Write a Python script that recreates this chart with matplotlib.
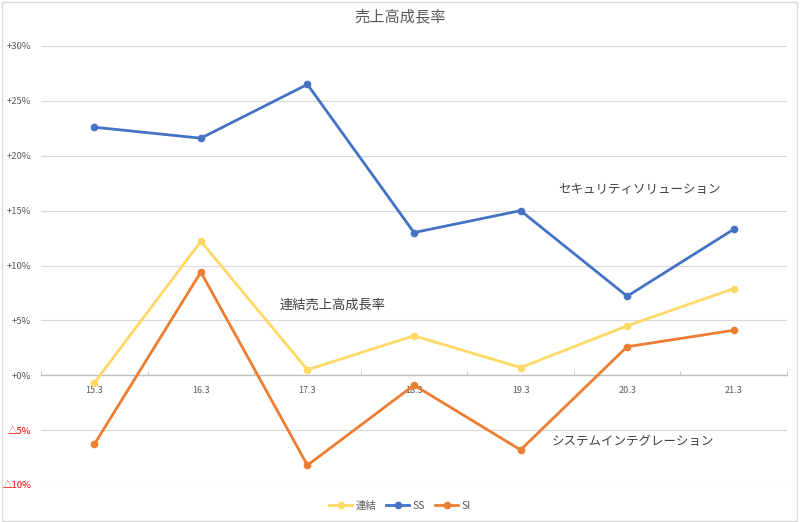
import numpy as np
import matplotlib.pyplot as plt
from matplotlib.patches import Rectangle

plt.rcParams['font.family'] = ['Noto Sans CJK JP', 'DejaVu Sans']

# データ
periods = ['15.3', '16.3', '17.3', '18.3', '19.3', '20.3', '21.3']
renketsu = [-0.7, 12.2, 0.5, 3.6, 0.7, 4.5, 7.9]   # 連結
ss = [22.6, 21.6, 26.5, 13.0, 15.0, 7.2, 13.3]      # セキュリティソリューション
si = [-6.3, 9.4, -8.2, -0.9, -6.8, 2.6, 4.1]        # システムインテグレーション
yticks = [-10, -5, 0, 5, 10, 15, 20, 25, 30]

c_ren = '#FFD966'
c_ss = '#4472C4'
c_si = '#ED7D31'
gray = '#595959'

fig = plt.figure(figsize=(8.0, 5.22), dpi=100)
ax = fig.add_axes([41/800, 1-485/522, (787-41)/800, (485-46)/522])

x = np.arange(len(periods))
lw = 2.0
ms = 4.5
ax.plot(x, renketsu, color=c_ren, lw=lw, marker='o', ms=ms, label='連結', zorder=3)
ax.plot(x, ss, color=c_ss, lw=lw, marker='o', ms=ms, label='SS', zorder=3)
ax.plot(x, si, color=c_si, lw=lw, marker='o', ms=ms, label='SI', zorder=3)

ax.set_xlim(-0.5, len(periods) - 0.5)
ax.set_ylim(-10, 30)

# y軸
ax.set_yticks(yticks)
labels = []
for v in yticks:
    labels.append('△%d%%' % -v if v < 0 else '+%d%%' % v)
ax.set_yticklabels(labels, fontsize=6.8)
for t, v in zip(ax.get_yticklabels(), yticks):
    t.set_color('#FF0000' if v < 0 else gray)
ax.tick_params(axis='y', length=0, pad=7)
ax.grid(axis='y', color='#D9D9D9', lw=0.8, zorder=0)

# x軸(0%の位置)
ax.spines['bottom'].set_position(('data', 0))
ax.spines['bottom'].set_color('#BFBFBF')
ax.spines['bottom'].set_linewidth(1.0)
for s in ['top', 'right', 'left']:
    ax.spines[s].set_visible(False)
ax.set_xticks(x)
ax.set_xticklabels(periods, fontsize=6.5, color=gray)
ax.set_xticks(np.arange(len(periods) + 1) - 0.5, minor=True)
ax.tick_params(axis='x', which='major', length=0, pad=8)
ax.tick_params(axis='x', which='minor', length=3, direction='in', color='#BFBFBF')

# 注記
ax.text(4.35, 16.9, 'セキュリティソリューション', fontsize=9, color='#404040', va='center')
ax.text(1.74, 6.4, '連結売上高成長率', fontsize=9.5, color='#404040', va='center')
ax.text(4.29, -6.0, 'システムインテグレーション', fontsize=9, color='#404040', va='center')

fig.text(0.5, 1-17/522, '売上高成長率', ha='center', va='center', fontsize=11, color=gray)

leg = fig.legend(loc='center', bbox_to_anchor=(0.5, 1-506/522), ncol=3, frameon=False,
                 fontsize=7.5, handlelength=2.2, columnspacing=1.0, handletextpad=0.3)
for t in leg.get_texts():
    t.set_color(gray)

fig.patches.append(Rectangle((0.002, 0.002), 0.994, 0.994, transform=fig.transFigure,
                             fill=False, edgecolor='#D9D9D9', lw=1.0))

fig.savefig('out.png', dpi=100)
